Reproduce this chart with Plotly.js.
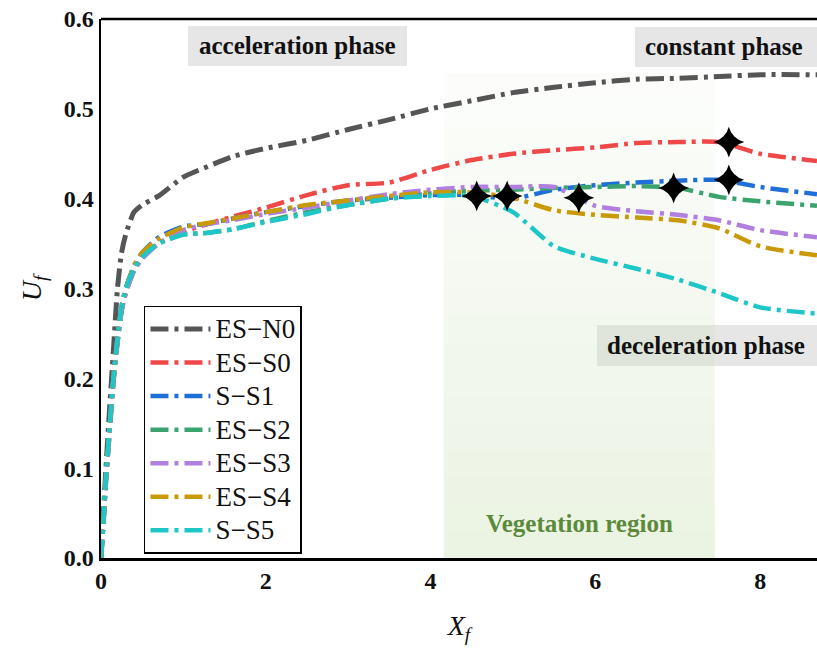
<!DOCTYPE html>
<html>
<head>
<meta charset="utf-8">
<script src="https://cdn.plot.ly/plotly-3.0.1.min.js"></script>
<style>html,body{margin:0;padding:0;background:#fff;overflow:hidden}</style>
</head>
<body>
<div id="chart" style="width:817px;height:650px"></div>
<script>
// ---- data ----
const XF = [0, 0.03, 0.06, 0.1, 0.15, 0.2, 0.25, 0.3, 0.4, 0.5, 0.7, 1.0, 1.3, 1.6, 2.0, 2.5, 3.0, 3.5, 4.0, 4.5, 5.0, 5.5, 6.0, 6.5, 7.0, 7.5, 8.0, 8.69];

const ES_N0 = [0, 0.05, 0.1, 0.16, 0.23, 0.3, 0.34, 0.36, 0.385, 0.393, 0.403, 0.424, 0.436, 0.447, 0.456, 0.465, 0.477, 0.488, 0.5, 0.509, 0.518, 0.524, 0.529, 0.533, 0.534, 0.536, 0.538, 0.538];
const ES_S0 = [0, 0.04, 0.085, 0.135, 0.195, 0.24, 0.275, 0.295, 0.32, 0.335, 0.35, 0.363, 0.372, 0.38, 0.39, 0.404, 0.415, 0.418, 0.432, 0.443, 0.45, 0.454, 0.457, 0.462, 0.463, 0.463, 0.45, 0.442];
const S_S1  = [0, 0.04, 0.09, 0.14, 0.2, 0.245, 0.28, 0.3, 0.325, 0.34, 0.357, 0.369, 0.372, 0.378, 0.385, 0.392, 0.398, 0.401, 0.404, 0.404, 0.4, 0.41, 0.415, 0.418, 0.42, 0.421, 0.413, 0.405];
const ES_S2 = [0, 0.04, 0.085, 0.135, 0.195, 0.24, 0.275, 0.295, 0.32, 0.335, 0.35, 0.36, 0.362, 0.366, 0.375, 0.385, 0.393, 0.4, 0.406, 0.409, 0.41, 0.412, 0.413, 0.414, 0.412, 0.402, 0.397, 0.392];
const ES_S3 = [0, 0.04, 0.085, 0.135, 0.195, 0.24, 0.275, 0.295, 0.32, 0.333, 0.35, 0.365, 0.372, 0.376, 0.383, 0.39, 0.398, 0.405, 0.41, 0.413, 0.413, 0.413, 0.392, 0.386, 0.382, 0.376, 0.365, 0.357];
const ES_S4 = [0, 0.04, 0.09, 0.14, 0.2, 0.245, 0.28, 0.3, 0.325, 0.34, 0.355, 0.368, 0.373, 0.378, 0.385, 0.393, 0.398, 0.403, 0.407, 0.407, 0.401, 0.387, 0.382, 0.379, 0.376, 0.367, 0.347, 0.337];
const S_S5  = [0, 0.04, 0.09, 0.14, 0.2, 0.245, 0.28, 0.3, 0.322, 0.335, 0.35, 0.36, 0.362, 0.366, 0.374, 0.383, 0.393, 0.4, 0.403, 0.403, 0.385, 0.347, 0.333, 0.322, 0.31, 0.295, 0.279, 0.272];

const seriesNames = ["ES\u2212N0", "ES\u2212S0", "S\u2212S1", "ES\u2212S2", "ES\u2212S3", "ES\u2212S4", "S\u2212S5"];
const seriesValues = [ES_N0, ES_S0, S_S1, ES_S2, ES_S3, ES_S4, S_S5];
const seriesColors = ["#555555", "#ef4848", "#1f6fd8", "#3ba46e", "#b07fe0", "#c99a08", "#1fc6c8"];

// transition points (stars)
const starX = [4.56, 4.93, 5.8, 6.95, 7.62, 7.62];
const starY = [0.403, 0.403, 0.401, 0.412, 0.463, 0.421];

const xTicks = [0, 2, 4, 6, 8];
const yTicks = [0.0, 0.1, 0.2, 0.3, 0.4, 0.5, 0.6];
const vegStart = 4.16, vegEnd = 7.45;

// ---- build ----
const serif = "Liberation Serif";
const traces = seriesValues.map((vals, i) => ({
  x: XF, y: vals, name: '<span style="font-size:27px">' + seriesNames[i] + '</span>', type: "scatter", mode: "lines",
  line: {color: seriesColors[i], width: i === 0 ? 5 : 4.5, dash: "18px,6px,4px,6px", shape: "spline", smoothing: 0.6}
}));
traces.push({
  x: starX, y: starY, type: "scatter", mode: "markers", showlegend: false,
  marker: {symbol: "star-diamond", size: 22, color: "#000000", line: {width: 0}}
});

// gradient vegetation band
const shapes = [];
const nBands = 18, bandTop = 0.54;
for (let k = 0; k < nBands; k++) {
  const a = 0.36 * (1 - k / nBands) + 0.04;
  shapes.push({type: "rect", xref: "x", yref: "y", x0: vegStart, x1: vegEnd,
    y0: bandTop * k / nBands, y1: bandTop * (k + 1) / nBands, fillcolor: `rgba(205,225,185,${a.toFixed(3)})`,
    line: {width: 0}, layer: "below"});
}
// phase label boxes
const boxes = [[0.1215, 0.4274, 0.913, 0.987], [0.7458, 1.02, 0.911, 0.985], [0.6927, 1.02, 0.3562, 0.4323]];
boxes.forEach(b => shapes.push({type: "rect", xref: "paper", yref: "paper", x0: b[0], x1: b[1], y0: b[2], y1: b[3],
  fillcolor: "#e6e6e6", line: {width: 0}, layer: "below"}));
// top frame line
shapes.push({type: "line", xref: "paper", yref: "paper", x0: 0, x1: 1, y0: 1, y1: 1, line: {color: "#000", width: 2.5}});

const annFont = {family: serif, size: 25, color: "#111", weight: "bold"};
const ann = (text, x, y, font) => ({text, xref: "paper", yref: "paper", x, y, xanchor: "center", yanchor: "middle", showarrow: false, font});
const annotations = [
  ann("acceleration phase", 0.2744, 0.951, annFont),
  ann("constant phase", 0.8708, 0.949, annFont),
  ann("deceleration phase", 0.8443, 0.394, annFont),
  ann("Vegetation region", 0.6676, 0.0631, {family: serif, size: 25, color: "#5b8a3c", weight: "bold"})
];

const layout = {
  width: 817, height: 650,
  margin: {l: 101, r: 0, t: 19, b: 92},
  paper_bgcolor: "#fff", plot_bgcolor: "#fff",
  font: {family: serif},
  showlegend: true,
  legend: {x: 0.06, y: 0.468, xanchor: "left", yanchor: "top", bgcolor: "#fff",
    bordercolor: "#000", borderwidth: 1.5, font: {family: serif, size: 23.5, color: "#111"},
    itemwidth: 60, tracegroupgap: 0},
  xaxis: {range: [0, 8.69], tickvals: xTicks, ticktext: xTicks.map(String), showgrid: false, zeroline: false,
    showline: true, linecolor: "#000", linewidth: 2.5, ticks: "",
    tickfont: {family: serif, size: 24, color: "#111", weight: "bold"},
    title: {text: "<i>X</i><sub><i>f</i></sub>", font: {family: serif, size: 28, color: "#111"}, standoff: 22}},
  yaxis: {range: [0, 0.6], tickvals: yTicks, ticktext: yTicks.map(v => v.toFixed(1)), showgrid: false, zeroline: false,
    showline: true, linecolor: "#000", linewidth: 2.5, ticks: "",
    tickfont: {family: serif, size: 24, color: "#111", weight: "bold"},
    title: {text: "<i>U</i><sub><i>f</i></sub>", font: {family: serif, size: 28, color: "#111"}, standoff: 14}},
  shapes: shapes,
  annotations: annotations
};

Plotly.newPlot("chart", traces, layout, {staticPlot: true, displayModeBar: false});
</script>
</body>
</html>
